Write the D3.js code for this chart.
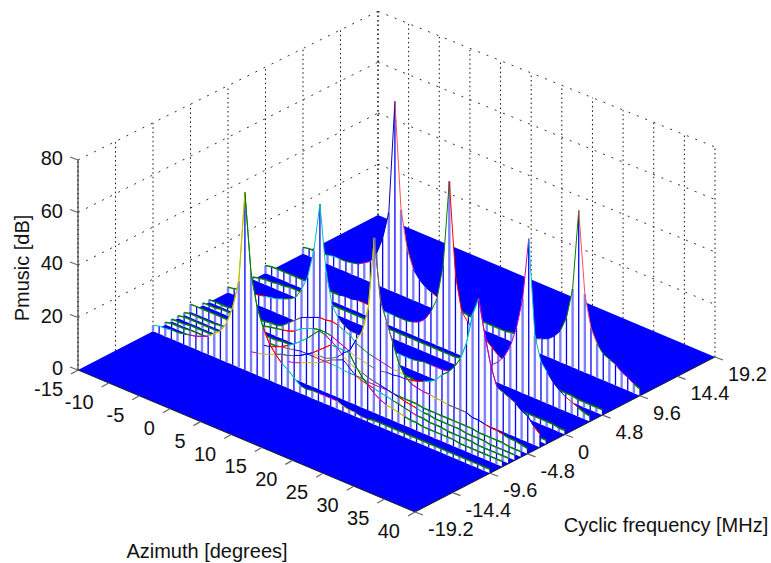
<!DOCTYPE html>
<html>
<head>
<meta charset="utf-8">
<script src="https://cdn.jsdelivr.net/npm/d3@7"></script>
<style>
  html, body { margin: 0; padding: 0; background: #fff; }
  text { font-family: "Liberation Sans", Arial, sans-serif; font-size: 20px; fill: #111; }
</style>
</head>
<body>
<svg id="chart" width="771" height="563"></svg>
<script>
const azimuths = d3.range(-15, 41);
const azTicks = [-15, -10, -5, 0, 5, 10, 15, 20, 25, 30, 35, 40];
const cycTicks = [-19.2, -14.4, -9.6, -4.8, 0, 4.8, 9.6, 14.4, 19.2];
const zTicks = [0, 20, 40, 60, 80];

// one spectrum per cyclic frequency, azimuth -15..40 in 1 degree steps
const rowP96 = [2.5,3,3,3.5,3.5,4,4,4,4.5,5, 6.5,8,12,19,30, 74,
  33,19,12,9,7,6,5,4.5,4,3.5, 3.5,3,3,3,3,3,3,3,3.5,3.5,
  4,4,5,6,7,9,12,18,30,61, 30,18,13,10,9,8,6,5,3.5,2.5];
const rowP48 = [3,3.5,3.5,3.5,3.5,3.5,3.5,3.5,3.5,3.5, 3.5,3.5,3.5,4,4, 4.5,
  4.5,4.5,4.5,4.5,4.5,4.5,4.5,4.5,5,6, 8,12,18,32,65,30,17,14,12,12,
  10,8,6,5,4.5,4,3.5,3.5,3,3, 3,3,2.5,2.5,2.5,2,2,2,2,2];
const rowP32 = [1,1.5,2,2,2.5,2.5,3,3,3,3, 3,3,3,3,3, 3,
  3,3,3,3,3,3,3,3,3,3, 3,3,3,3,3,3,3,3,3.5,3.5,
  4,4.5,5,6,8,11,16,24,36,60, 24,15,12,9,7,5.5,4.5,3.5,2.5,2];
const rowZero = [2,2.5,3,3,3.5,4,4.5,5,5.5,6.5, 7.5,9,13,19,30, 49,
  24,12,8,6,5,5,5,4.5,4.5,4.5, 4,4,4,4,4,4.5,5,5,5,5,
  5.5,6,6,5,4,3,2.5,2,2,2, 1.5,1.5,2,2,2,2,2,2,1.5,1.5];
const rowM24 = [1,1,1,1,1.5,1.5,1.5,1.5,1.5,1.5, 2,2,3,5,7, 9,
  10,11,12,12,12.5,12,11,10,8,7, 6,5.5,5,4.5,4,4,3.5,3.5,3,3,
  3,3,3,2.5,2.5,2.5,2.5,2.5,2.5,2, 2,2,2,2,2,1.5,1.5,1.5,1.5,1.5];
const rowM32 = [1,1,1,1.5,1.5,1.5,1.5,2,2,2, 2,2.5,3,3.5,4, 5,
  7,8,9,9.5,9.5,9,8,7,6,5, 4.5,4,3.5,3.5,4,4,4.5,4.5,5,5.5,
  6.5,7.5,9,12,14,17,21,28,40,47, 34,23,16,15,14,13,11,10,7,5];
const rowM48 = [3,3,3,3,3,3,3,3,3,3, 3,3,3,3,3, 3.5,
  3.5,3.5,3.5,3.5,3.5,4,4,5,6.5,9, 11,16,20,30,58,35,28,21,14,10,
  8,7.5,7,7,6.5,6.5,6,6,6,6, 5,5,4.5,4,4,3.5,3,3,2.5,2];
const rowM56 = [1,1.5,1.5,1.5,1.5,1.5,2,2,2,2, 2,2,2.5,2.5,3, 3,
  3.5,4,4.5,5,5,5,5,5,5,5, 4.5,4.5,4.5,4.5,4,4,4,4,3.5,3.5,
  3.5,3.5,3.5,3,3,3,3,3,3,3, 3,3,2.5,2.5,2.5,2.5,2.5,2,2,2];
const rowM64 = [1,1.5,1.5,1.5,1.5,1.5,1.5,1.5,2,2, 2,2,2.5,3,3.5, 4,
  5,6,7.5,9,11,13,15.5,18,17.5,16, 14.5,12,10.5,9.5,9,8,7.5,7,6.5,6,
  5.5,4.8,4.4,4,3.5,3.5,3,3,3,3, 3,2.5,2.5,2.5,2.5,2,2,2,2,2];
const rowM72 = [1,1,1,1.5,1.5,1.5,1.5,1.5,1.5,1.5, 1.5,2,2,2.5,2.5, 2.5,
  2.5,3,3,3.5,4,5,6,7,8,9.5, 11,12,13,11,9,8,7.5,7,6.5,6,
  5.5,5,4.5,4,3.5,3.5,3,3,3,2.5, 2.5,2.5,2.5,2.5,2,2,2,2,2,2];
const rowM80 = [1,1.5,1.5,1.5,2,2,2,2,2,2, 2,2,2.5,3,3.5, 4,
  4.5,5.5,6.5,7.5,8,9,10,11.5,13,15, 17,19,19,19,18.7,15,12,9.5,7.5,6,
  5,4.5,4,3.5,3,3,2.5,2.5,2.5,2.5, 2.5,2.5,2,2,2,2,2,2,2,2];
const rowM96 = [2.3,3,3,3.5,3.5,4,4.5,5,6,7, 9,11,15,22,33, 68,
  38,26,19,14,11,8.5,7,5,3,2.5, 3,3,3,3,3,2,1.5,1.5,1,1,
  1.5,1.5,1.5,1.5,1.5,1.5,1.5,1.5,1.5,1.5, 1.5,1.5,1.5,1.5,1.5,1.5,1.5,1.5,1.5,1.5];

// back to front, the order they get painted in
const rowFreqs = [9.6, 4.8, 3.2, 0, -2.4, -3.2, -4.8, -5.6, -6.4, -7.2, -8, -9.6];
const rowValues = [rowP96, rowP48, rowP32, rowZero, rowM24, rowM32, rowM48, rowM56, rowM64, rowM72, rowM80, rowM96];
const lineColors = ["#ff0000", "#00bfbf", "#008000", "#bf00bf", "#bfbf00", "#606060", "#0000ff"];

// rim colours on the two flanks of the tall peaks
const peakRims = [
  { cyc: 9.6, az: 0, left: "#0000c0", right: "#ff5050" },
  { cyc: 9.6, az: 30, left: "#008000", right: "#ff5050" },
  { cyc: 4.8, az: 15, left: "#008000", right: "#ff0000" },
  { cyc: 3.2, az: 30, left: "#bf00bf", right: "#00bfbf" },
  { cyc: 0, az: 0, left: "#00bfbf", right: "#00bfbf" },
  { cyc: -3.2, az: 30, left: "#00bfbf", right: "#bf00bf" },
  { cyc: -4.8, az: 15, left: "#bfbf00", right: "#606060" },
  { cyc: -9.6, az: 0, left: "#bfbf00", right: "#008000" }
];
const lowLevel = 4;

const svg = d3.select("#chart");

// the three box edges as seen on screen, meeting in the left floor corner
const origin = { x: 78, y: 370 };
const azEdge = { x: 337, y: 142 };
const cycEdge = { x: 300, y: -155 };

const azScale = d3.scaleLinear().domain([-15, 40]).range([0, 1]);
const cycScale = d3.scaleLinear().domain([-19.2, 19.2]).range([0, 1]);
const zScale = d3.scaleLinear().domain([0, 80]).range([0, 210]);

// the far corner is a bit shorter, the original has some perspective
const depth = (az, cyc) => 1 - 0.03 * cycScale(cyc) * (1 - azScale(az));
const px = (az, cyc) => origin.x + azScale(az) * azEdge.x + cycScale(cyc) * cycEdge.x;
const py = (az, cyc, z) => origin.y + azScale(az) * azEdge.y + cycScale(cyc) * cycEdge.y - zScale(z) * depth(az, cyc);

const segment = (a, b) => "M" + a[0] + "," + a[1] + "L" + b[0] + "," + b[1];
const azMin = azTicks[0], azMax = azTicks[azTicks.length - 1];
const cycMin = cycTicks[0], cycMax = cycTicks[cycTicks.length - 1];
const zMax = zTicks[zTicks.length - 1];

// dotted grid on the two back walls
const grid = svg.append("g").attr("fill", "none").attr("stroke-width", 1);

grid.selectAll(".cyc-v").data(cycTicks).enter().append("path")
  .attr("stroke", "#111").attr("stroke-dasharray", "1.5 3")
  .attr("d", d => segment([px(azMin, d), py(azMin, d, 0)], [px(azMin, d), py(azMin, d, zMax)]));
grid.selectAll(".az-v").data(azTicks).enter().append("path")
  .attr("stroke", "#111").attr("stroke-dasharray", "1.5 3")
  .attr("d", d => segment([px(d, cycMax), py(d, cycMax, 0)], [px(d, cycMax), py(d, cycMax, zMax)]));
grid.selectAll(".z-l").data(zTicks.slice(1)).enter().append("path")
  .attr("stroke", "#333").attr("stroke-dasharray", "2 7")
  .attr("d", d => segment([px(azMin, cycMin), py(azMin, cycMin, d)], [px(azMin, cycMax), py(azMin, cycMax, d)]));
grid.selectAll(".z-r").data(zTicks.slice(1)).enter().append("path")
  .attr("stroke", "#333").attr("stroke-dasharray", "2 7")
  .attr("d", d => segment([px(azMin, cycMax), py(azMin, cycMax, d)], [px(azMax, cycMax), py(azMax, cycMax, d)]));

// floor
const floorCorners = [[azMin, cycMin], [azMax, cycMin], [azMax, cycMax], [azMin, cycMax]];
svg.append("path")
  .attr("d", d3.line().x(d => px(d[0], d[1])).y(d => py(d[0], d[1], 0)).curve(d3.curveLinearClosed)(floorCorners))
  .attr("fill", "#0000ff");

const isGreen = (cyc, values, i) =>
  Math.max(values[i], values[i + 1]) < lowLevel && (cyc !== -9.6 || azimuths[i] >= 20);

function rimColor(cyc, values, i, r) {
  if (isGreen(cyc, values, i)) return "#008000";
  const az = azimuths[i];
  const peak = peakRims.find(p => p.cyc === cyc && Math.abs(az + 0.5 - p.az) < 3);
  if (peak) return az < peak.az ? peak.left : peak.right;
  return lineColors[(Math.floor(i / 3) + r * 2) % lineColors.length];
}

function drawRim(parent, cyc, values, r, keep) {
  const steps = d3.range(values.length - 1).filter(keep);
  parent.selectAll(".rim").data(steps).enter().append("path")
    .attr("d", i => segment(
      [px(azimuths[i], cyc), py(azimuths[i], cyc, values[i])],
      [px(azimuths[i + 1], cyc), py(azimuths[i + 1], cyc, values[i + 1])]))
    .attr("fill", "none")
    .attr("stroke-width", i => isGreen(cyc, values, i) ? 1.5 : 1)
    .attr("stroke", i => rimColor(cyc, values, i, r));
}

// walls, back to front so nearer ones hide what is behind them
rowFreqs.forEach((cyc, r) => {
  const values = rowValues[r];
  const wall = svg.append("g").attr("class", "wall");

  const area = d3.area()
    .x((d, i) => px(azimuths[i], cyc))
    .y0((d, i) => py(azimuths[i], cyc, 0))
    .y1((d, i) => py(azimuths[i], cyc, d));
  wall.append("path").attr("d", area(values)).attr("fill", "#fff");

  wall.selectAll(".stem").data(values).enter().append("line")
    .attr("x1", (d, i) => px(azimuths[i], cyc))
    .attr("x2", (d, i) => px(azimuths[i], cyc))
    .attr("y1", (d, i) => py(azimuths[i], cyc, 0))
    .attr("y2", (d, i) => py(azimuths[i], cyc, d))
    .attr("stroke", (d, i) => i % 2 ? "#0000ff" : "#8080ff")
    .attr("stroke-width", (d, i) => i % 2 ? 1.3 : 2.4);

  drawRim(wall, cyc, values, r, () => true);
});

// the higher rims of the front rows show through each other in the original
rowFreqs.forEach((cyc, r) => {
  if (cyc < 0) {
    const values = rowValues[r];
    drawRim(svg.append("g").attr("class", "rims"), cyc, values, r,
      i => Math.max(values[i], values[i + 1]) >= lowLevel);
  }
});

// axis lines and ticks
const axes = svg.append("g").attr("fill", "none").attr("stroke", "#222").attr("stroke-width", 1);
axes.append("path").attr("d", segment([px(azMin, cycMin), py(azMin, cycMin, 0)], [px(azMin, cycMin), py(azMin, cycMin, zMax)]));
axes.append("path").attr("d", segment([px(azMin, cycMin), py(azMin, cycMin, 0)], [px(azMax, cycMin), py(azMax, cycMin, 0)]));
axes.append("path").attr("d", segment([px(azMax, cycMin), py(azMax, cycMin, 0)], [px(azMax, cycMax), py(azMax, cycMax, 0)]));

const ticks = svg.append("g").attr("fill", "none").attr("stroke", "#666").attr("stroke-width", 1.2);
ticks.selectAll(".z").data(zTicks).enter().append("path")
  .attr("d", d => { const x = px(azMin, cycMin), y = py(azMin, cycMin, d); return segment([x, y], [x - 8, y - 3]); });
ticks.selectAll(".az").data(azTicks).enter().append("path")
  .attr("d", d => { const x = px(d, cycMin), y = py(d, cycMin, 0); return segment([x, y], [x - 7, y + 4]); });
ticks.selectAll(".cyc").data(cycTicks).enter().append("path")
  .attr("d", d => { const x = px(azMax, d), y = py(azMax, d, 0); return segment([x, y], [x + 8, y + 3]); });

// tick labels
svg.selectAll(".z-label").data(zTicks).enter().append("text")
  .attr("x", px(azMin, cycMin) - 15)
  .attr("y", d => py(azMin, cycMin, d) - 2)
  .attr("text-anchor", "end").attr("dominant-baseline", "central")
  .text(d => d);
svg.selectAll(".az-label").data(azTicks).enter().append("text")
  .attr("x", d => px(d, cycMin) - 15)
  .attr("y", d => py(d, cycMin, 0) + 19)
  .attr("text-anchor", "end").attr("dominant-baseline", "central")
  .text(d => d);
svg.selectAll(".cyc-label").data(cycTicks).enter().append("text")
  .attr("x", d => px(azMax, d) + 13)
  .attr("y", d => py(azMax, d, 0) + 17)
  .attr("dominant-baseline", "central")
  .text(d => d);

// axis titles
svg.append("text").attr("x", 207).attr("y", 551).attr("text-anchor", "middle").attr("dominant-baseline", "central").text("Azimuth [degrees]");
svg.append("text").attr("x", 666).attr("y", 525).attr("text-anchor", "middle").attr("dominant-baseline", "central").text("Cyclic frequency [MHz]");
svg.append("text").attr("transform", "translate(22,268) rotate(-90)").attr("text-anchor", "middle").attr("dominant-baseline", "central").text("Pmusic [dB]");
</script>
</body>
</html>
